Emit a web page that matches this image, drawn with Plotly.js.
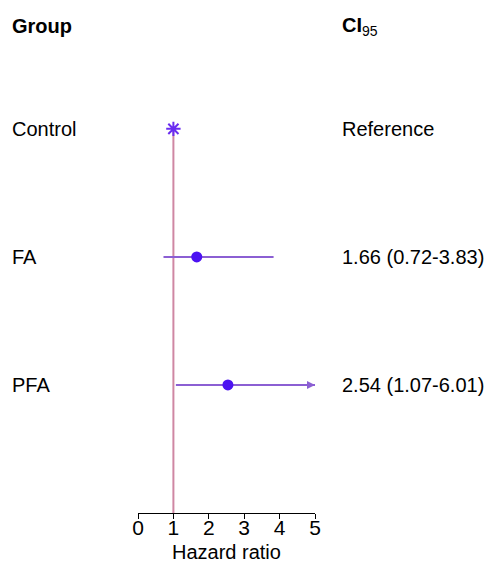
<!DOCTYPE html>
<html>
<head>
<meta charset="utf-8">
<script src="https://cdn.plot.ly/plotly-3.0.1.min.js"></script>
<style>html,body{margin:0;padding:0;background:#fff;}#chart{width:494px;height:562px;}</style>
</head>
<body>
<div id="chart"></div>
<script>
// Data
const groups = ['Control', 'FA', 'PFA'];
const hazardRatio = [1, 1.66, 2.54];
const ciLow = [null, 0.72, 1.07];
const ciHigh = [null, 3.83, 6.01];
const ciLabels = ['Reference', '1.66 (0.72-3.83)', '2.54 (1.07-6.01)'];
const xTicks = [0, 1, 2, 3, 4, 5];
const xMax = 5;

const rowPos = groups.map((g, i) => i);
const traces = [];

// reference line at HR = 1
traces.push({
  x: [1, 1], y: [0, 3.0], mode: 'lines',
  line: {color: '#cf87a3', width: 2}, hoverinfo: 'skip', showlegend: false
});

const annotations = [];
groups.forEach((g, i) => {
  if (ciLow[i] !== null) {
    const hiClip = Math.min(ciHigh[i], xMax);
    traces.push({
      x: [ciLow[i], hiClip], y: [rowPos[i], rowPos[i]], mode: 'lines',
      line: {color: '#8b5fd3', width: 2}, hoverinfo: 'skip', showlegend: false
    });
    if (ciHigh[i] > xMax) {
      annotations.push({
        x: xMax, y: rowPos[i], ax: xMax - 0.3, ay: rowPos[i],
        xref: 'x', yref: 'y', axref: 'x', ayref: 'y',
        showarrow: true, arrowhead: 2, arrowsize: 0.8, arrowwidth: 2,
        arrowcolor: '#8b5fd3', text: ' ', standoff: 0, font: {size: 1}
      });
    }
  }
});

// point estimates
traces.push({
  x: hazardRatio.slice(1), y: rowPos.slice(1), mode: 'markers',
  marker: {color: '#4c12f2', size: 11, symbol: 'circle'},
  hoverinfo: 'skip', showlegend: false, cliponaxis: false
});
traces.push({
  x: [hazardRatio[0]], y: [rowPos[0]], mode: 'markers',
  marker: {color: '#6a2cf0', size: 12, symbol: 'asterisk-open', line: {color: '#6a2cf0', width: 2}},
  hoverinfo: 'skip', showlegend: false, cliponaxis: false
});

const font = 'Liberation Sans, Arial, Helvetica, sans-serif';
const leftX = -0.723, rightX = 1.141;
annotations.push({xref: 'paper', yref: 'y', x: leftX, y: -0.8, xanchor: 'left', yanchor: 'middle',
  text: '<b>Group</b>', showarrow: false, font: {family: font, size: 20, color: '#000'}});
annotations.push({xref: 'paper', yref: 'y', x: rightX, y: -0.8, xanchor: 'left', yanchor: 'middle',
  text: '<b>CI</b><sub>95</sub>', showarrow: false, font: {family: font, size: 20, color: '#000'}});
groups.forEach((g, i) => {
  annotations.push({xref: 'paper', yref: 'y', x: leftX, y: rowPos[i], xanchor: 'left', yanchor: 'middle',
    text: g, showarrow: false, font: {family: font, size: 20, color: '#000'}});
  annotations.push({xref: 'paper', yref: 'y', x: rightX, y: rowPos[i], xanchor: 'left', yanchor: 'middle',
    text: ciLabels[i], showarrow: false, font: {family: font, size: 20, color: '#000'}});
});
// x-axis title
annotations.push({xref: 'paper', yref: 'paper', x: 0.5, y: -0.079, xanchor: 'center', yanchor: 'middle',
  text: 'Hazard ratio', showarrow: false, font: {family: font, size: 20, color: '#000'}});

const layout = {
  width: 494, height: 562,
  margin: {l: 138, r: 179, t: 20, b: 49},
  paper_bgcolor: '#fff', plot_bgcolor: '#fff',
  showlegend: false,
  xaxis: {
    range: [0, xMax], tickvals: xTicks, ticktext: xTicks.map(String),
    showgrid: false, zeroline: false, showline: true, linecolor: '#000', linewidth: 1,
    ticks: 'outside', ticklen: 5, tickcolor: '#000', tickwidth: 1,
    tickfont: {family: font, size: 21, color: '#000'},
    ticklabelstandoff: -9,
    fixedrange: true, automargin: false
  },
  yaxis: {
    range: [3.0, -0.85], showgrid: false, zeroline: false, showline: false,
    showticklabels: false, ticks: '', fixedrange: true
  },
  annotations: annotations
};

Plotly.newPlot('chart', traces, layout, {displayModeBar: false, staticPlot: true});
</script>
</body>
</html>
